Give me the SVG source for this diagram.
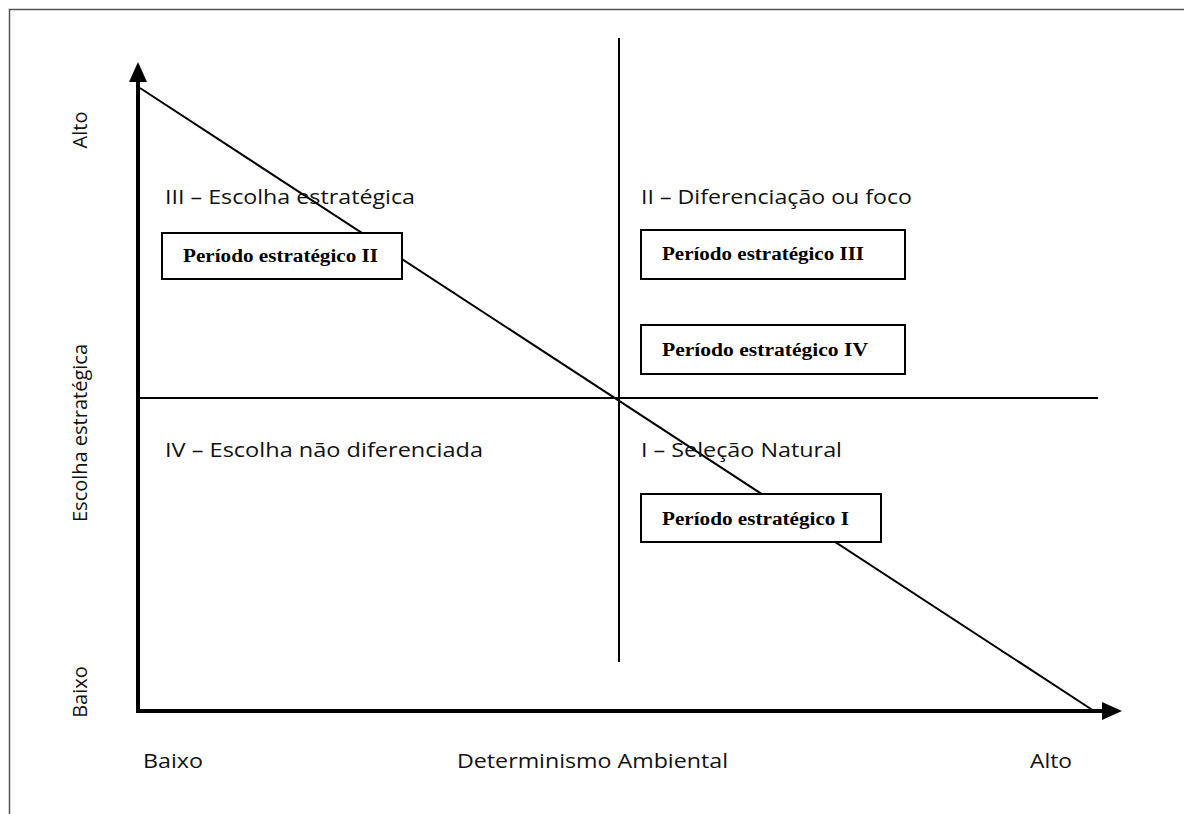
<svg xmlns="http://www.w3.org/2000/svg" width="1184" height="814" viewBox="0 0 1184 814">
<style>
.lbl{font-family:"Open Sans","Noto Sans","Liberation Sans",sans-serif;font-size:20px;fill:#111}
.box rect{fill:#fff;stroke:#000;stroke-width:2}
.box text{font-family:"Liberation Serif","Times New Roman",serif;font-weight:bold;font-size:18.5px;fill:#000}
.ln{stroke:#000;stroke-width:2;fill:none}
.ax{stroke:#000;stroke-width:4;fill:none}
</style>
<defs>
<marker id="ah" markerUnits="userSpaceOnUse" markerWidth="20" markerHeight="20" refX="0" refY="10" orient="auto" viewBox="0 0 20 20">
<path d="M0,1 L20,10 L0,19 Z" fill="#000"/>
</marker>
</defs>
<rect x="0" y="0" width="1184" height="814" fill="#fff"/>
<path d="M9.5,830 V9.5 H1200" fill="none" stroke="#555" stroke-width="1.5"/>
<g id="connectors">
<line class="ln" x1="619" y1="38" x2="619" y2="662"/>
<line class="ln" x1="138" y1="398" x2="1098" y2="398"/>
<line class="ln" x1="140" y1="88" x2="1094" y2="711"/>
<line class="ax" x1="138" y1="713" x2="138" y2="82" marker-end="url(#ah)"/>
<line class="ax" x1="136" y1="711" x2="1102" y2="711" marker-end="url(#ah)"/>
</g>
<g id="quadrant-labels">
<text class="lbl" x="165" y="204" textLength="250" lengthAdjust="spacingAndGlyphs">III – Escolha estratégica</text>
<text class="lbl" x="641" y="204" textLength="271" lengthAdjust="spacingAndGlyphs">II – Diferenciação ou foco</text>
<text class="lbl" x="165" y="457" textLength="318" lengthAdjust="spacingAndGlyphs">IV – Escolha não diferenciada</text>
<text class="lbl" x="641" y="457" textLength="201" lengthAdjust="spacingAndGlyphs">I – Seleção Natural</text>
</g>
<g id="box-II" class="box">
<rect x="162" y="233" width="240" height="46"/>
<text x="183" y="262" textLength="195" lengthAdjust="spacingAndGlyphs">Período estratégico II</text>
</g>
<g id="box-III" class="box">
<rect x="641" y="230" width="264" height="49"/>
<text x="662" y="260" textLength="202" lengthAdjust="spacingAndGlyphs">Período estratégico III</text>
</g>
<g id="box-IV" class="box">
<rect x="641" y="325" width="264" height="49"/>
<text x="662" y="356" textLength="206" lengthAdjust="spacingAndGlyphs">Período estratégico IV</text>
</g>
<g id="box-I" class="box">
<rect x="641" y="494" width="240" height="48"/>
<text x="662" y="525" textLength="187" lengthAdjust="spacingAndGlyphs">Período estratégico I</text>
</g>
<g id="axis-labels">
<text class="lbl" x="143" y="768" textLength="60" lengthAdjust="spacingAndGlyphs">Baixo</text>
<text class="lbl" x="457" y="768" textLength="271" lengthAdjust="spacingAndGlyphs">Determinismo Ambiental</text>
<text class="lbl" x="1030" y="768" textLength="42" lengthAdjust="spacingAndGlyphs">Alto</text>
<text class="lbl" transform="translate(87,130) rotate(-90)" text-anchor="middle">Alto</text>
<text class="lbl" transform="translate(87,433) rotate(-90)" text-anchor="middle">Escolha estratégica</text>
<text class="lbl" transform="translate(87,692) rotate(-90)" text-anchor="middle">Baixo</text>
</g>
</svg>
